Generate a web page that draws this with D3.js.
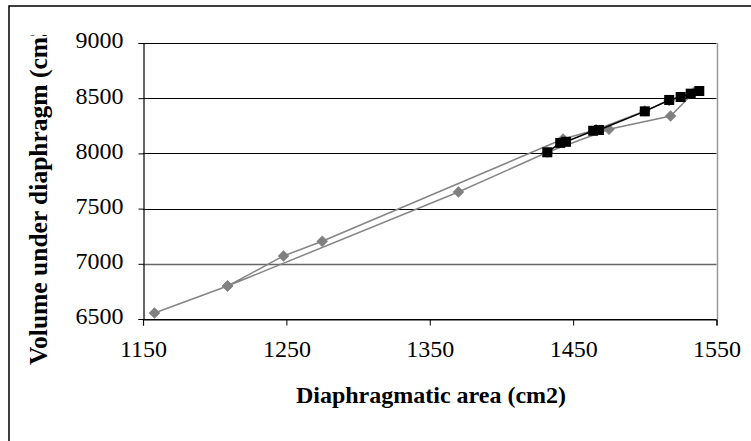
<!DOCTYPE html>
<html><head><meta charset="utf-8">
<script src="https://cdn.jsdelivr.net/npm/d3@7"></script>
<style>html,body{margin:0;padding:0;background:#fff;}svg{display:block;}</style>
</head><body>
<svg id="chart" width="751" height="441"></svg>
<script>
// Gray series (diamonds), in drawing order (loop)
const grayX = [1158, 1209, 1248, 1275, 1443, 1466, 1500, 1517, 1534, 1518, 1475, 1432, 1370, 1209];
const grayY = [6554, 6799, 7071, 7204, 8130, 8215, 8385, 8480, 8550, 8339, 8218, 8010, 7650, 6799];
// Black series (squares)
const blackX = [1432, 1441, 1445, 1464, 1468, 1500, 1517, 1525, 1532, 1538];
const blackY = [8010, 8095, 8105, 8205, 8212, 8381, 8484, 8511, 8541, 8565];
const xTicks = [1150, 1250, 1350, 1450, 1550];
const yTicks = [6500, 7000, 7500, 8000, 8500, 9000];
const xTitle = "Diaphragmatic area (cm2)";
const yTitle = "Volume under diaphragm (cm3)";

const svg = d3.select("#chart");
const font = "'Liberation Serif','Times New Roman',serif";

// outer frame
svg.append("rect").attr("x", 9).attr("y", 6).attr("width", 800).attr("height", 500)
  .attr("fill", "none").attr("stroke", "#000").attr("stroke-width", 1.5);

const x = d3.scaleLinear().domain([1150, 1550]).range([143, 716.5]);
const y = d3.scaleLinear().domain([6500, 9000]).range([319, 43]);

// gridlines
svg.append("g").selectAll("line").data(yTicks).join("line")
  .attr("x1", x(1150)).attr("x2", x(1550))
  .attr("y1", d => Math.round(y(d)) + 0.5).attr("y2", d => Math.round(y(d)) + 0.5)
  .attr("stroke", d => d === 7000 ? "#666" : "#000").attr("stroke-width", d => d === 7000 ? 1.6 : 1);

// plot right border (gray)
svg.append("line").attr("x1", Math.round(x(1550)) + 0.5).attr("x2", Math.round(x(1550)) + 0.5)
  .attr("y1", y(9000)).attr("y2", y(6500)).attr("stroke", "#999").attr("stroke-width", 1.5);

// axes
const yAxis = d3.axisLeft(y).tickValues(yTicks).tickSize(5).tickPadding(15).tickFormat(d3.format("d"));
const gy = svg.append("g").attr("transform", `translate(${Math.round(x(1150)) + 0.5},0)`).call(yAxis);
const xAxis = d3.axisBottom(x).tickValues(xTicks).tickSize(6).tickPadding(14).tickFormat(d3.format("d"));
const gx = svg.append("g").attr("transform", `translate(0,${Math.round(y(6500)) + 0.5})`).call(xAxis);
[gx, gy].forEach(g => {
  g.select(".domain").attr("stroke", "#000").attr("stroke-width", 1.2);
  g.selectAll(".tick line").attr("stroke", "#000");
  g.selectAll("text").attr("font-family", font).attr("font-size", 24).attr("fill", "#000");
});
gx.selectAll("text").attr("dy", "0.71em");
gy.selectAll("text").attr("dy", "0.2em");

// axis titles
svg.append("text").attr("x", 431).attr("y", 403).attr("text-anchor", "middle")
  .attr("font-family", font).attr("font-weight", "bold").attr("font-size", 24).text(xTitle);

svg.append("defs").append("clipPath").attr("id", "yclip")
  .append("rect").attr("x", 0).attr("y", 35).attr("width", 100).attr("height", 400);
svg.append("g").attr("clip-path", "url(#yclip)")
  .append("text").attr("transform", "translate(47,365) rotate(-90)").attr("text-anchor", "start")
  .attr("font-family", font).attr("font-weight", "bold").attr("font-size", 25.5).text(yTitle);

// gray series
const grayPts = grayX.map((v, i) => [v, grayY[i]]);
const line = d3.line().x(d => x(d[0])).y(d => y(d[1]));
svg.append("path").datum(grayPts).attr("d", line).attr("fill", "none")
  .attr("stroke", "#858585").attr("stroke-width", 1.5);
const diamondPath = "M0,-5.5L5.5,0L0,5.5L-5.5,0Z";
svg.append("g").selectAll("path").data(grayPts).join("path")
  .attr("d", diamondPath).attr("transform", d => `translate(${x(d[0])},${y(d[1])})`)
  .attr("fill", "#808080").attr("stroke", "#808080").attr("stroke-width", 0.5);

// black series
const blackPts = blackX.map((v, i) => [v, blackY[i]]);
svg.append("path").datum(blackPts).attr("d", line).attr("fill", "none")
  .attr("stroke", "#000").attr("stroke-width", 1.5);
svg.append("g").selectAll("rect").data(blackPts).join("rect")
  .attr("x", d => x(d[0]) - 5).attr("y", d => y(d[1]) - 5).attr("width", 10).attr("height", 10)
  .attr("fill", "#000");
</script>
</body></html>
